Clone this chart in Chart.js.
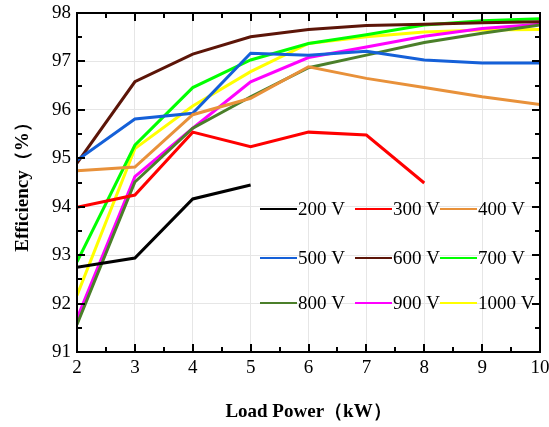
<!DOCTYPE html>
<html>
<head>
<meta charset="utf-8">
<script src="https://cdn.jsdelivr.net/npm/chart.js@4.4.1/dist/chart.umd.min.js"></script>
<style>
  html, body { margin: 0; padding: 0; background: #fff; }
  #wrap { width: 549px; height: 427px; }
</style>
</head>
<body>
<div id="wrap"><canvas id="effChart"></canvas></div>
<script>
// Load power (kW) on the x axis
const loadPower = [2, 3, 4, 5, 6, 7, 8, 9, 10];

// Efficiency (%) per input voltage
const eff200 = [92.75, 92.94, 94.16, 94.45];
const eff300 = [93.99, 94.24, 95.54, 95.24, 95.54, 95.48, 94.49];
const eff400 = [94.74, 94.82, 95.90, 96.24, 96.89, 96.65, 96.46, 96.27, 96.11];
const eff500 = [94.96, 95.81, 95.93, 97.17, 97.13, 97.21, 97.03, 96.97, 96.97];
const eff600 = [94.90, 96.58, 97.15, 97.51, 97.66, 97.74, 97.77, 97.80, 97.82];
const eff700 = [92.86, 95.27, 96.46, 97.03, 97.37, 97.55, 97.75, 97.84, 97.88];
const eff800 = [91.57, 94.51, 95.62, 96.27, 96.87, 97.13, 97.39, 97.58, 97.75];
const eff900 = [91.69, 94.62, 95.62, 96.58, 97.08, 97.30, 97.52, 97.68, 97.77];
const eff1000 = [92.17, 95.20, 96.08, 96.79, 97.37, 97.51, 97.61, 97.65, 97.66];

const seriesNames = ['200 V', '300 V', '400 V', '500 V', '600 V', '700 V', '800 V', '900 V', '1000 V'];
const seriesData = [eff200, eff300, eff400, eff500, eff600, eff700, eff800, eff900, eff1000];
const seriesColors = ['#000000', '#ff0000', '#e8913a', '#1560d8', '#5c1508', '#00ff00', '#4b7f2a', '#ff00ff', '#ffff00'];

const serif = '"Liberation Serif", "Times New Roman", serif';

const datasets = seriesData.map((vals, i) => ({
  label: seriesNames[i],
  data: vals.map((v, j) => ({ x: loadPower[j], y: v })),
  borderColor: seriesColors[i],
  backgroundColor: seriesColors[i],
  borderWidth: 3,
  pointRadius: 0,
  tension: 0,
  fill: false
}));

// Frame, inward ticks on all four sides, and the 3x3 legend inside the plot
const framePlugin = {
  id: 'frame',
  afterDatasetsDraw(chart) {
    const { ctx, chartArea: a, scales: { x, y } } = chart;
    ctx.save();
    ctx.strokeStyle = '#000';
    ctx.lineWidth = 2;
    ctx.strokeRect(a.left, a.top, a.right - a.left, a.bottom - a.top);

    ctx.lineWidth = 2;
    ctx.beginPath();
    for (let v = 2; v <= 10.001; v += 0.5) {
      const px = Math.round(x.getPixelForValue(v));
      const len = Number.isInteger(v) ? 8 : 5;
      ctx.moveTo(px, a.bottom); ctx.lineTo(px, a.bottom - len);
      ctx.moveTo(px, a.top); ctx.lineTo(px, a.top + len);
    }
    for (let v = 91; v <= 98.001; v += 0.5) {
      const py = Math.round(y.getPixelForValue(v));
      const len = Number.isInteger(v) ? 8 : 5;
      ctx.moveTo(a.left, py); ctx.lineTo(a.left + len, py);
      ctx.moveTo(a.right, py); ctx.lineTo(a.right - len, py);
    }
    ctx.stroke();

    // legend
    const cols = [260, 355, 440];
    const rows = [209, 258, 303];
    ctx.font = '19px ' + serif;
    ctx.textBaseline = 'middle';
    ctx.fillStyle = '#000';
    ctx.lineWidth = 2;
    chart.data.datasets.forEach((ds, i) => {
      const cx = cols[i % 3], cy = rows[Math.floor(i / 3)];
      ctx.strokeStyle = ds.borderColor;
      ctx.beginPath();
      ctx.moveTo(cx, cy); ctx.lineTo(cx + 37, cy);
      ctx.stroke();
      ctx.fillText(ds.label, cx + 38, cy + 1);
    });
    ctx.restore();
  }
};

new Chart(document.getElementById('effChart'), {
  type: 'line',
  data: { datasets },
  plugins: [framePlugin],
  options: {
    responsive: true,
    maintainAspectRatio: false,
    animation: false,
    devicePixelRatio: 1,
    layout: { padding: { top: 13, right: 9, left: 0, bottom: 0 } },
    plugins: { legend: { display: false }, tooltip: { enabled: false } },
    scales: {
      x: {
        type: 'linear',
        min: 2,
        max: 10,
        ticks: { stepSize: 1, color: '#000', font: { family: serif, size: 19 }, padding: 5, maxRotation: 0 },
        grid: { color: '#e6e6e6', drawTicks: false },
        border: { display: false },
        title: {
          display: true,
          text: 'Load Power（kW）',
          color: '#000',
          font: { family: serif, size: 19, weight: 'bold' },
          padding: { top: 0, bottom: 4 }
        },
        afterFit(scale) { scale.height = 75; scale.paddingLeft = 0; scale.paddingRight = 0; }
      },
      y: {
        min: 91,
        max: 98,
        ticks: { stepSize: 1, color: '#000', font: { family: serif, size: 19 }, padding: 6 },
        grid: { color: '#e6e6e6', drawTicks: false },
        border: { display: false },
        title: {
          display: true,
          text: 'Efficiency（%）',
          color: '#000',
          font: { family: serif, size: 19, weight: 'bold' },
          padding: { top: 12, bottom: 0 }
        },
        afterFit(scale) { scale.width = 77; scale.paddingTop = 0; scale.paddingBottom = 0; }
      }
    }
  }
});
</script>
</body>
</html>
